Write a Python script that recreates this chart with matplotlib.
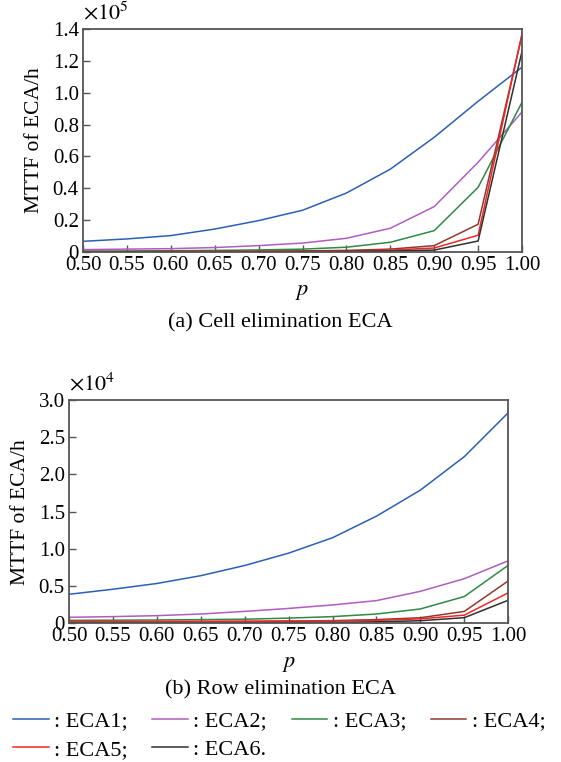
import numpy as np
import matplotlib
matplotlib.use("Agg")
import matplotlib.pyplot as plt

# p values shared by both panels
p = [0.50, 0.55, 0.60, 0.65, 0.70, 0.75, 0.80, 0.85, 0.90, 0.95, 1.00]

# (a) Cell elimination ECA, MTTF in units of 1e5 h
cell_eca1 = [0.067, 0.082, 0.103, 0.144, 0.197, 0.262, 0.370, 0.520, 0.720, 0.946, 1.160]
cell_eca2 = [0.015, 0.018, 0.021, 0.028, 0.040, 0.056, 0.086, 0.149, 0.285, 0.563, 0.879]
cell_eca3 = [0.005, 0.006, 0.008, 0.010, 0.013, 0.018, 0.030, 0.061, 0.134, 0.406, 0.940]
cell_eca4 = [0.003, 0.003, 0.004, 0.004, 0.005, 0.007, 0.010, 0.018, 0.040, 0.174, 1.360]
cell_eca5 = [0.002, 0.002, 0.003, 0.003, 0.004, 0.005, 0.007, 0.012, 0.025, 0.105, 1.370]
cell_eca6 = [0.001, 0.001, 0.001, 0.002, 0.002, 0.003, 0.004, 0.006, 0.012, 0.069, 1.260]

# (b) Row elimination ECA, MTTF in units of 1e4 h
row_eca1 = [0.390, 0.458, 0.535, 0.640, 0.777, 0.943, 1.150, 1.440, 1.790, 2.240, 2.830]
row_eca2 = [0.081, 0.090, 0.103, 0.125, 0.160, 0.200, 0.247, 0.305, 0.430, 0.600, 0.840]
row_eca3 = [0.040, 0.042, 0.045, 0.050, 0.055, 0.070, 0.090, 0.125, 0.193, 0.360, 0.780]
row_eca4 = [0.020, 0.021, 0.022, 0.024, 0.026, 0.030, 0.036, 0.050, 0.075, 0.160, 0.570]
row_eca5 = [0.025, 0.025, 0.025, 0.026, 0.027, 0.029, 0.032, 0.040, 0.060, 0.110, 0.410]
row_eca6 = [0.005, 0.005, 0.006, 0.006, 0.007, 0.009, 0.012, 0.020, 0.035, 0.076, 0.310]

labels = [": ECA1;", ": ECA2;", ": ECA3;", ": ECA4;", ": ECA5;", ": ECA6."]
colors = ["#2b5fb4", "#b05cc0", "#2e8a45", "#8e3b2f", "#f02525", "#303030"]

plt.rcParams["font.family"] = "Liberation Serif"
plt.rcParams["mathtext.fontset"] = "stix"

fig = plt.figure(figsize=(5.61, 7.62), dpi=100)
ax1 = fig.add_axes([0.148, 0.6693, 0.7825, 0.2927])
ax2 = fig.add_axes([0.123, 0.182, 0.783, 0.293])


def style(ax, ymax, ystep, power):
    ax.set_xlim(0.5, 1.0)
    ax.set_ylim(0, ymax)
    ax.set_xticks(p)
    ax.set_xticklabels([f"{v:.2f}" for v in p])
    yt = np.arange(0, ymax + 1e-9, ystep)
    ax.set_yticks(yt)
    ax.set_yticklabels(["0"] + [f"{v:.1f}" for v in yt[1:]])
    ax.tick_params(direction="in", length=5, width=1, color="#555555", pad=3,
                   labelsize=15)
    for s in ax.spines.values():
        s.set_color("#555555")
        s.set_linewidth(1.3)
    ax.set_ylabel("MTTF of ECA/h", fontsize=15.5, labelpad=6)
    ax.set_xlabel("$p$", fontsize=16, labelpad=6)
    ax.text(0.0, 1.02, rf"$\times 10^{{{power}}}$", transform=ax.transAxes,
            fontsize=16, ha="left", va="bottom")


cell = [cell_eca1, cell_eca2, cell_eca3, cell_eca4, cell_eca5, cell_eca6]
row = [row_eca1, row_eca2, row_eca3, row_eca4, row_eca5, row_eca6]

handles = []
for vals, c in zip(cell, colors):
    ax1.plot(p, vals, color=c, lw=1.1)
for vals, c, lab in zip(row, colors, labels):
    h, = ax2.plot(p, vals, color=c, lw=1.1, label=lab)
    handles.append(h)

style(ax1, 1.4, 0.2, 5)
style(ax2, 3.0, 0.5, 4)

fig.text(0.5, 1 - 323 / 762, "(a) Cell elimination ECA", ha="center", va="center",
         fontsize=16)
fig.text(0.5, 1 - 690 / 762, "(b) Row elimination ECA", ha="center", va="center",
         fontsize=16)

order = [0, 4, 1, 5, 2, 3]
fig.legend([handles[i] for i in order], [labels[i] for i in order], ncol=4,
           loc="upper left", bbox_to_anchor=(13 / 561, 1 - 711 / 762), frameon=False,
           fontsize=16, handlelength=1.6, handletextpad=0.25, columnspacing=1.1,
           labelspacing=0.35, borderaxespad=0, borderpad=0)

fig.savefig("out.png", dpi=100)
